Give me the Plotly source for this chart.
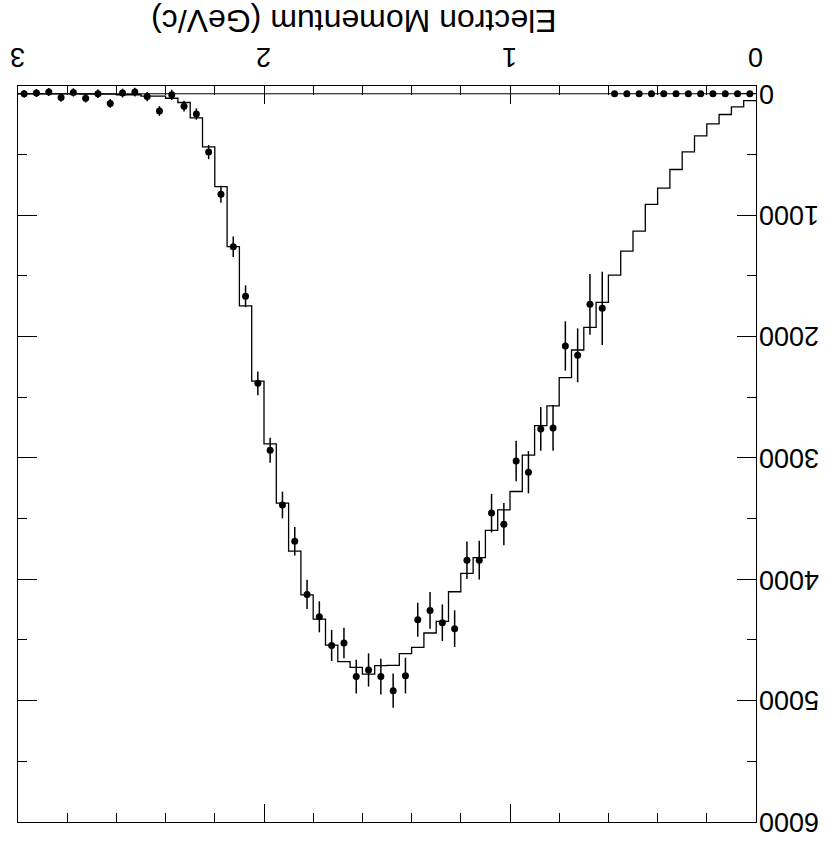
import numpy as np
import plotly.graph_objects as go

# Bin layout: 60 bins of 0.05 GeV/c from 0 to 3
bin_width = 0.05
n_bins = 60

# Monte Carlo expectation (step histogram), bins 0..59
mc_counts = [56, 108, 171, 248, 347, 479, 624, 778, 912, 1132,
             1296, 1494, 1719, 1924, 2111, 2339, 2572, 2734, 2978, 3277,
             3428, 3598, 3821, 3952, 4103, 4347, 4443, 4561, 4613, 4709,
             4712, 4781, 4726, 4679, 4542, 4328, 4128, 3769, 3373, 2885,
             2368, 1748, 1260, 765, 437, 198, 72, 37, 20, 20,
             8, 8, 3, 2, 2, 1, 1, 1, 0, 0]

# Data points, bins 0..59
data_counts = [0, 0, 0, 0, 0, 0, 0, 0, 0, 0,
               0, 0, 1768, 1735, 2155, 2078, 2753, 2761, 3118, 3025,
               3546, 3455, 3843, 3843, 4407, 4358, 4257, 4333, 4794, 4918,
               4802, 4747, 4802, 4525, 4545, 4309, 4125, 3687, 3388, 2938,
               2386, 1668, 1260, 827, 480, 167, 102, 9, 142, 23,
               -14, -6, 80, 0, 37, -11, 31, -14, -6, 0]

data_errors = [0, 0, 0, 0, 0, 0, 0, 0, 0, 0,
               0, 0, 302, 250, 222, 203, 188, 180, 174, 167,
               174, 159, 160, 155, 151, 151, 151, 140, 147, 141,
               148, 137, 139, 126, 128, 128, 121, 118, 110, 103,
               98, 90, 84, 70, 59, 47, 44, 42, 40, 38,
               36, 36, 36, 35, 35, 34, 34, 33, 33, 32]

x_tick_vals = [0, 1, 2, 3]
x_tick_text = ["0", "1", "2", "3"]
y_tick_vals = [0, 1000, 2000, 3000, 4000, 5000, 6000]
y_tick_text = ["0", "1000", "2000", "3000", "4000", "5000", "6000"]
x_title = "Electron Momentum (GeV/c)"

edges = np.arange(n_bins + 1) * bin_width
centers = (edges[:-1] + edges[1:]) / 2

FONT = "Liberation Sans, Arial, Helvetica, sans-serif"
LABEL_SIZE = 27

fig = go.Figure()

fig.add_trace(go.Scatter(
    x=edges, y=list(mc_counts) + [mc_counts[-1]],
    mode="lines", line=dict(shape="hv", color="black", width=1.3),
    showlegend=False, hoverinfo="skip"))

fig.add_trace(go.Scatter(
    x=centers, y=data_counts, mode="markers",
    marker=dict(color="black", size=7, symbol="circle"),
    error_y=dict(type="data", array=data_errors, visible=True,
                 color="black", thickness=1.5, width=0),
    showlegend=False))

fig.add_shape(type="line", xref="paper", x0=0, x1=1, yref="y", y0=0, y1=0,
              line=dict(color="black", width=1))

# Upside-down tick labels (the whole chart is rotated by 180 degrees)
for v, t in zip(x_tick_vals, x_tick_text):
    fig.add_annotation(text=t, x=v, xref="x", y=1, yref="paper",
                       yanchor="middle", yshift=29, textangle=180,
                       showarrow=False,
                       font=dict(family=FONT, size=LABEL_SIZE, color="black"))
for v, t in zip(y_tick_vals, y_tick_text):
    fig.add_annotation(text=t, x=1, xref="paper", xanchor="left", xshift=1,
                       y=v, yref="y", yanchor="middle", textangle=180,
                       showarrow=False,
                       font=dict(family=FONT, size=LABEL_SIZE, color="black"))

fig.add_annotation(text=x_title, xref="paper", yref="paper",
                   x=0.455, y=1.0, yanchor="middle", yshift=65,
                   textangle=180, showarrow=False,
                   font=dict(family=FONT, size=32, color="black"))

fig.update_layout(
    width=829, height=844,
    margin=dict(l=18, r=73, t=86, b=22, autoexpand=False),
    paper_bgcolor="white", plot_bgcolor="white",
    xaxis=dict(range=[3, 0], side="top", tickmode="array",
               tickvals=x_tick_vals, showticklabels=False, automargin=False,
               ticks="inside", ticklen=18, tickwidth=1, tickcolor="black",
               showline=True, linecolor="black", linewidth=1, mirror="ticks",
               showgrid=False, zeroline=False,
               minor=dict(dtick=0.2, ticks="inside", ticklen=9,
                          tickcolor="black", tickwidth=1, showgrid=False)),
    yaxis=dict(range=[6000, -64], side="right", tickmode="array",
               tickvals=y_tick_vals, showticklabels=False, automargin=False,
               ticks="inside", ticklen=19, tickwidth=1, tickcolor="black",
               showline=True, linecolor="black", linewidth=1, mirror="ticks",
               showgrid=False, zeroline=False,
               minor=dict(dtick=500, ticks="inside", ticklen=9,
                          tickcolor="black", tickwidth=1, showgrid=False)),
)

fig.write_html("out.html")
